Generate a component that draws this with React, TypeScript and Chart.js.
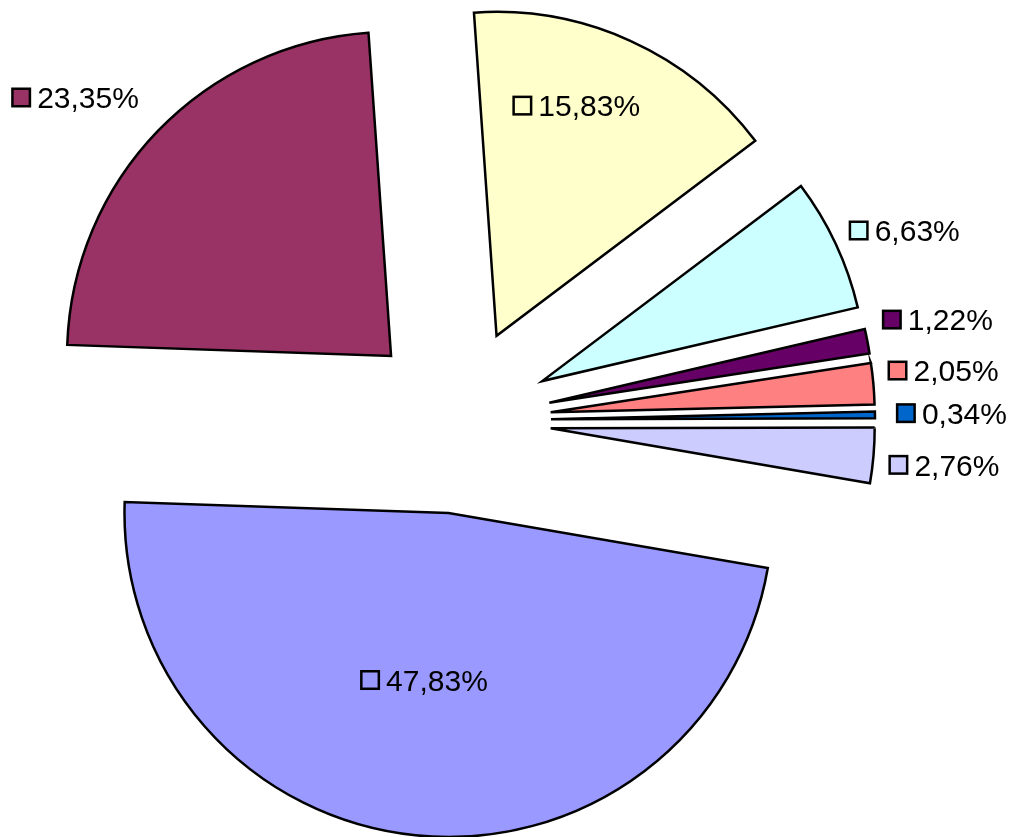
import React, { useEffect, useRef } from "react";
import { Chart, registerables } from "chart.js";

Chart.register(...registerables);

// ---- data ----
const categories = ["Cat. 1", "Cat. 2", "Cat. 3", "Cat. 4", "Cat. 5", "Cat. 6", "Cat. 7", "Cat. 8"];
const values = [15.83, 6.63, 1.22, 2.05, 0.34, 2.76, 47.83, 23.35];
const colors = ["#FFFFCC", "#CCFFFF", "#660066", "#FF8080", "#0066CC", "#CCCCFF", "#9999FF", "#993366"];

// ---- label placement (relative to each exploded slice) ----
const labelAngleShift = [-5.4, 2.5, -1.15, -1.0, -0.1, 0.5, 2.5, -4.7];
const labelDistance = [0.752, 1.21, 1.225, 1.218, 1.236, 1.219, 0.521, 1.26];

const EXPLODE = 93;
const RADIUS = 324;
const ROTATION = -4;
const FONT_SIZE = 30;
const BOX = 20;
const GAP = 6;

const explodePlugin = {
  id: "explode",
  afterUpdate(chart: any) {
    const meta = chart.getDatasetMeta(0);
    meta.data.forEach((arc: any) => {
      const mid = (arc.startAngle + arc.endAngle) / 2;
      arc.x += Math.cos(mid) * EXPLODE;
      arc.y += Math.sin(mid) * EXPLODE;
    });
  },
};

const labelPlugin = {
  id: "pctLabels",
  afterDatasetsDraw(chart: any) {
    const ctx = chart.ctx;
    const meta = chart.getDatasetMeta(0);
    ctx.save();
    ctx.font = `${FONT_SIZE}px "Liberation Sans", Arial, sans-serif`;
    meta.data.forEach((arc: any, i: number) => {
      const ang = (arc.startAngle + arc.endAngle) / 2 + (labelAngleShift[i] * Math.PI) / 180;
      const r = arc.outerRadius * labelDistance[i];
      const cx = arc.x + Math.cos(ang) * r;
      const cy = arc.y + Math.sin(ang) * r;
      const text = values[i].toFixed(2).replace(".", ",") + "%";
      const tw = ctx.measureText(text).width;
      const total = BOX + GAP + tw;
      const left = cx - total / 2;
      ctx.fillStyle = colors[i];
      ctx.fillRect(left + 1.25, cy - BOX / 2 + 1.25, BOX - 2.5, BOX - 2.5);
      ctx.lineWidth = 2.5;
      ctx.strokeStyle = "#000";
      ctx.strokeRect(left + 1.25, cy - BOX / 2 + 1.25, BOX - 2.5, BOX - 2.5);
      ctx.fillStyle = "#000";
      ctx.textBaseline = "alphabetic";
      ctx.textAlign = "left";
      ctx.fillText(text, left + BOX + GAP, cy + FONT_SIZE * 0.358);
    });
    ctx.restore();
  },
};

export default function App() {
  const canvasRef = useRef<HTMLCanvasElement | null>(null);

  useEffect(() => {
    if (!canvasRef.current) return;
    const chart = new Chart(canvasRef.current, {
      type: "pie",
      data: {
        labels: categories,
        datasets: [
          {
            data: values,
            backgroundColor: colors,
            borderColor: "#000000",
            borderWidth: 2.5,
            borderJoinStyle: "miter",
            rotation: ROTATION,
            radius: RADIUS,
          } as any,
        ],
      },
      options: {
        responsive: false,
        animation: false,
        events: [],
        layout: { padding: { left: 0, right: 98, top: 4, bottom: 0 } },
        plugins: {
          legend: { display: false },
          tooltip: { enabled: false },
        },
      } as any,
      plugins: [explodePlugin, labelPlugin],
    });
    return () => chart.destroy();
  }, []);

  return (
    <div style={{ position: "fixed", left: 0, top: 0, width: 1014, height: 837, background: "#fff" }}>
      <canvas ref={canvasRef} width={1014} height={837} />
    </div>
  );
}
